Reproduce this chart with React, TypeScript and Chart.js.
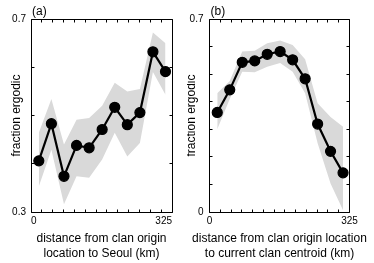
import React, { useEffect, useRef } from 'react';
import { Chart, registerables } from 'chart.js';

Chart.register(...registerables);
Chart.defaults.font.family = '"Liberation Sans", Arial, Helvetica, sans-serif';
Chart.defaults.color = '#000';

// ---- data ----
const distanceKm = [18, 47, 76, 105, 134, 164, 193, 222, 251, 281, 310];

const seoulMean = [0.406, 0.483, 0.374, 0.438, 0.433, 0.471, 0.517, 0.481, 0.506, 0.632, 0.591];
const seoulUpper = [0.464, 0.534, 0.44, 0.491, 0.495, 0.52, 0.568, 0.55, 0.555, 0.672, 0.65];
const seoulLower = [0.353, 0.429, 0.316, 0.374, 0.371, 0.409, 0.464, 0.415, 0.443, 0.59, 0.543];

const centroidMean = [0.361, 0.443, 0.543, 0.548, 0.572, 0.582, 0.552, 0.483, 0.319, 0.22, 0.142];
const centroidUpper = [0.431, 0.475, 0.582, 0.585, 0.612, 0.622, 0.606, 0.554, 0.394, 0.345, 0.309];
const centroidLower = [0.3, 0.41, 0.509, 0.507, 0.527, 0.54, 0.509, 0.431, 0.249, 0.103, 0.006];

const xTickMarks = [0, 25, 50, 75, 100, 125, 150, 175, 200, 225, 250, 275, 300, 325];
const xTickLabels = [0, 325];
const yTickMarksA = [0.3, 0.4, 0.5, 0.6, 0.7];
const yTickLabelsA = [0.3, 0.7];
const yTickMarksB = [0, 0.1, 0.2, 0.3, 0.4, 0.5, 0.6, 0.7];
const yTickLabelsB = [0, 0.7];

const panelLabels = ['(a)', '(b)'];
const xTitleA = ['distance from clan origin', 'location to Seoul (km)'];
const xTitleB = ['distance from clan origin location', 'to current clan centroid (km)'];
const yTitle = 'fraction ergodic';

const FONT = '"Liberation Sans", Arial, Helvetica, sans-serif';

type PanelSpec = {
  mean: number[];
  upper: number[];
  lower: number[];
  yMin: number;
  yMax: number;
  yMarks: number[];
  yLabels: number[];
  xTitle: string[];
  panelLabel: string;
  yAxisWidth: number;
  padRight: number;
  yTickPad: number;
  yTitleLineHeight: number;
  yTitlePad: number;
  xAlign: 'inner' | 'center';
};

function makeFramePlugin(spec: PanelSpec) {
  return {
    id: 'frameAndText',
    afterDraw(chart: any) {
      const { ctx, chartArea } = chart;
      const { left, right, top, bottom } = chartArea;
      const xs = chart.scales.x;
      const ys = chart.scales.y;
      const a = (v: number) => Math.floor(v) + 0.5;
      ctx.save();
      ctx.strokeStyle = '#000';
      ctx.lineWidth = 1;
      ctx.beginPath();
      ctx.moveTo(a(left), a(top));
      ctx.lineTo(a(right), a(top));
      ctx.lineTo(a(right), a(bottom));
      ctx.lineTo(a(left), a(bottom));
      ctx.closePath();
      ctx.stroke();
      const tl = 3;
      ctx.beginPath();
      for (const v of xTickMarks) {
        const px = a(xs.getPixelForValue(v));
        ctx.moveTo(px, a(top));
        ctx.lineTo(px, a(top) + tl);
        ctx.moveTo(px, a(bottom));
        ctx.lineTo(px, a(bottom) - tl);
      }
      for (const v of spec.yMarks) {
        const py = a(ys.getPixelForValue(v));
        ctx.moveTo(a(left), py);
        ctx.lineTo(a(left) + tl, py);
        ctx.moveTo(a(right), py);
        ctx.lineTo(a(right) - tl, py);
      }
      ctx.stroke();

      ctx.fillStyle = '#000';
      ctx.font = `12px ${FONT}`;
      ctx.textBaseline = 'middle';
      ctx.textAlign = 'center';
      const cx = (left + right) / 2;
      ctx.fillText(spec.xTitle[0], cx, bottom + 27);
      ctx.fillText(spec.xTitle[1], cx, bottom + 42);
      ctx.textAlign = 'left';
      ctx.fillText(spec.panelLabel, left + 1, top - 7);
      ctx.restore();
    },
  };
}

function makeConfig(spec: PanelSpec): any {
  const pts = (vals: number[]) => vals.map((v, i) => ({ x: distanceKm[i], y: v }));
  return {
    type: 'line',
    data: {
      datasets: [
        {
          data: pts(spec.mean),
          borderColor: '#000',
          borderWidth: 2.2,
          pointRadius: 5,
          pointBorderWidth: 1.2,
          pointBackgroundColor: '#000',
          pointBorderColor: '#000',
          fill: false,
          tension: 0,
        },
        {
          data: pts(spec.upper),
          borderWidth: 0,
          borderColor: 'rgba(0,0,0,0)',
          pointRadius: 0,
          backgroundColor: '#d9d9d9',
          fill: '+1',
          tension: 0,
        },
        {
          data: pts(spec.lower),
          borderWidth: 0,
          borderColor: 'rgba(0,0,0,0)',
          pointRadius: 0,
          fill: false,
          tension: 0,
        },
      ],
    },
    options: {
      responsive: false,
      animation: false,
      devicePixelRatio: 1,
      layout: { padding: { left: 0, top: 19, right: spec.padRight, bottom: 0 } },
      plugins: { legend: { display: false }, tooltip: { enabled: false }, title: { display: false } },
      scales: {
        x: {
          type: 'linear',
          position: 'bottom',
          min: 0,
          max: 325,
          grid: { display: false, drawTicks: false },
          border: { display: false },
          afterBuildTicks: (s: any) => {
            s.ticks = xTickLabels.map((v) => ({ value: v }));
          },
          afterFit: (s: any) => {
            s.height = 51;
          },
          ticks: {
            autoSkip: false,
            maxRotation: 0,
            padding: 3,
            align: spec.xAlign,
            font: { size: 10 },
            color: '#000',
            callback: (v: any) => String(v),
          },
        },
        y: {
          type: 'linear',
          position: 'left',
          min: spec.yMin,
          max: spec.yMax,
          grid: { display: false, drawTicks: false },
          border: { display: false },
          afterBuildTicks: (s: any) => {
            s.ticks = spec.yLabels.map((v) => ({ value: v }));
          },
          afterFit: (s: any) => {
            s.width = spec.yAxisWidth;
          },
          ticks: {
            autoSkip: false,
            padding: spec.yTickPad,
            font: { size: 10 },
            color: '#000',
            callback: (v: any) => String(v),
          },
          title: {
            display: true,
            text: yTitle,
            color: '#000',
            font: { size: 12, lineHeight: spec.yTitleLineHeight },
            padding: { top: spec.yTitlePad, bottom: 0 },
          },
        },
      },
    },
    plugins: [makeFramePlugin(spec)],
  };
}

const specA: PanelSpec = {
  mean: seoulMean,
  upper: seoulUpper,
  lower: seoulLower,
  yMin: 0.3,
  yMax: 0.7,
  yMarks: yTickMarksA,
  yLabels: yTickLabelsA,
  xTitle: xTitleA,
  panelLabel: panelLabels[0],
  yAxisWidth: 31,
  padRight: 15,
  yTickPad: 5,
  yTitleLineHeight: 1.2,
  yTitlePad: 9.3,
  xAlign: 'inner',
};

const specB: PanelSpec = {
  mean: centroidMean,
  upper: centroidUpper,
  lower: centroidLower,
  yMin: 0,
  yMax: 0.7,
  yMarks: yTickMarksB,
  yLabels: yTickLabelsB,
  xTitle: xTitleB,
  panelLabel: panelLabels[1],
  yAxisWidth: 22.5,
  padRight: 24.5,
  yTickPad: 6,
  yTitleLineHeight: 0.75,
  yTitlePad: 0,
  xAlign: 'center',
};

function Panel({ spec, left, width }: { spec: PanelSpec; left: number; width: number }) {
  const ref = useRef<HTMLCanvasElement | null>(null);
  useEffect(() => {
    if (!ref.current) return;
    const chart = new Chart(ref.current, makeConfig(spec));
    return () => chart.destroy();
  }, [spec]);
  return (
    <canvas
      ref={ref}
      width={width}
      height={263}
      style={{ position: 'absolute', left, top: 0, width, height: 263, display: 'block' }}
    />
  );
}

export default function App() {
  return (
    <div style={{ position: 'absolute', left: 0, top: 0, width: 374, height: 263, background: '#fff', overflow: 'hidden' }}>
      <Panel spec={specA} left={0} width={187} />
      <Panel spec={specB} left={187} width={187} />
    </div>
  );
}
